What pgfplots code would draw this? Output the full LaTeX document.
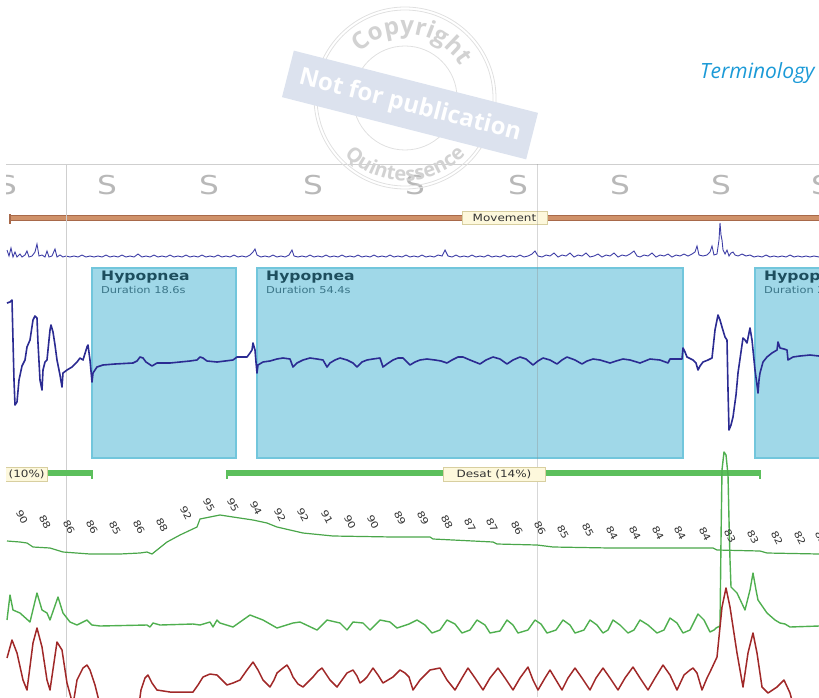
\documentclass[border=0pt]{standalone}
\usepackage{pgfplots}
\pgfplotsset{compat=1.18}
\usepackage{fontspec}
\setmainfont{DejaVu Sans}
\newfontfamily\chartfont[FakeStretch=1.2]{DejaVu Sans}
\newfontfamily\termfont{Open Sans}
\newfontfamily\wmfont{Open Sans}
\usetikzlibrary{decorations.text}
\definecolor{sgrey}{HTML}{B8B8B8}
\definecolor{gridgrey}{HTML}{CFCFCF}
\definecolor{movfill}{HTML}{CF9169}
\definecolor{movdark}{HTML}{A8694A}
\definecolor{labelbg}{HTML}{FDF8DC}
\definecolor{labelbd}{HTML}{D8CFA0}
\definecolor{emg}{HTML}{3E3EA6}
\definecolor{resp}{HTML}{2B2B92}
\definecolor{hypfill}{HTML}{A0D8E8}
\definecolor{hypdraw}{HTML}{72C6DC}
\definecolor{hyptext}{HTML}{1D4E5E}
\definecolor{durtext}{HTML}{3A7588}
\definecolor{desat}{HTML}{5CBF5C}
\definecolor{spo}{HTML}{4AA64A}
\definecolor{flow}{HTML}{4FAF4F}
\definecolor{thor}{HTML}{A02828}
\definecolor{numgrey}{HTML}{333333}
\definecolor{termblue}{HTML}{1B9AD7}
\definecolor{wmline}{HTML}{E0E0E0}
\definecolor{wmband}{HTML}{DCE2EE}
\definecolor{wmtext}{HTML}{D2D2D2}
\newcommand\wmcopy{\wmfont\bfseries\fontsize{24}{26}\selectfont}
\newcommand\wmquint{\wmfont\bfseries\fontsize{20}{22}\selectfont}
\begin{document}
\begin{tikzpicture}[x=1pt,y=1pt]
\begin{scope}
\clip (6,0) rectangle (819,534);
\begin{axis}[at={(0,0)}, anchor=south west, x=1pt, y=1pt,
  xmin=0, xmax=819, ymin=0, ymax=697, y dir=reverse, hide axis, clip=false]
% top border
\addplot[gridgrey, line width=0.8pt] coordinates {(6,164) (830,164)};
% S row
\addplot[draw=none, mark=none, nodes near coords, point meta=explicit symbolic,
  nodes near coords style={anchor=center, inner sep=0pt, text=sgrey, font=\chartfont\fontsize{26}{28}\selectfont}]
  table[meta=lab] {
x y lab
7 185 S
107 185 S
209 185 S
313 185 S
415 185 S
518 185 S
620 185 S
721 185 S
821 185 S
};
% movement bar
\addplot[movdark, line width=6.5pt] coordinates {(10,218) (830,218)};
\addplot[movfill, line width=4.5pt] coordinates {(11,218) (830,218)};
\addplot[movdark, line width=1.5pt] coordinates {(10,214) (10,224)};
\node[fill=labelbg, draw=labelbd, line width=0.6pt, inner sep=0pt, minimum width=85pt, minimum height=13pt,
  font=\chartfont\fontsize{10}{12}\selectfont, text=black!80] at (axis cs:504.5,217.5) {Movement};
% EMG trace
\addplot[emg, line width=0.9pt] coordinates {
(7,250)(9,256)(11,248)(13,257)(15,252)(17,257)(20,254)(22,257)(25,255)(27,251)(29,257)(32,256)(35,252)(37,244)(39,256)(42,255)(45,257)(47,251)(49,257)(52,256)(55,249)(57,257)(60,255)(63,257)(66,256)(70,257)(74,256)(78,257)(82,255)(86,257)(90,256)(94,257)(98,256)(102,257)(106,255)(110,257)(114,256)(118,257)(122,255)(126,257)(130,256)(134,257)(138,254)(142,257)(146,256)(150,257)(154,255)(158,257)(162,256)(166,257)(170,255)(174,257)(178,256)(182,257)(186,255)(190,257)(194,256)(198,257)(202,255)(206,257)(210,256)(214,257)(218,255)(222,257)(226,256)(230,257)(234,255)(238,257)(242,256)(246,257)(250,255)(253,252)(255,249)(257,255)(261,257)(265,256)(269,257)(273,255)(277,257)(281,256)(285,257)(289,255)(292,250)(294,256)(298,257)(302,256)(306,257)(310,255)(314,257)(318,256)(322,257)(326,255)(330,257)(334,256)(338,257)(342,255)(346,257)(350,256)(354,257)(358,255)(362,257)(366,256)(370,257)(374,255)(378,257)(382,256)(386,257)(390,255)(394,257)(398,256)(402,257)(406,255)(410,257)(414,256)(418,257)(422,255)(426,257)(430,256)(434,257)(438,255)(442,256)(445,250)(448,256)(452,257)(456,255)(460,257)(464,256)(468,257)(472,255)(476,257)(480,256)(484,257)(488,255)(492,257)(496,256)(500,257)(504,255)(508,257)(512,256)(516,257)(520,255)(524,257)(528,256)(532,254)(535,251)(538,256)(542,257)(546,255)(550,256)(554,253)(558,257)(562,255)(566,256)(570,253)(574,257)(578,255)(582,256)(586,253)(590,257)(594,256)(598,254)(602,257)(606,255)(610,256)(614,253)(618,257)(622,255)(626,256)(630,254)(634,251)(637,256)(640,257)(644,255)(648,256)(652,253)(656,257)(660,255)(664,256)(668,254)(672,257)(676,255)(680,256)(684,254)(688,256)(692,254)(695,252)(697,246)(699,255)(703,256)(707,255)(710,252)(712,246)(714,255)(717,254)(719,240)(720,223)(721,235)(722,240)(723,250)(725,254)(727,250)(729,256)(731,253)(733,252)(735,255)(738,256)(742,254)(746,256)(750,255)(754,257)(758,256)(762,257)(766,255)(770,257)(774,256)(778,257)(782,256)(786,257)(790,255)(794,257)(798,256)(802,257)(806,256)(810,257)(814,256)(819,257)};
% hypopnea boxes
\addplot[fill=hypfill, draw=hypdraw, line width=1.5pt] coordinates {(92,268)(236,268)(236,458)(92,458)} -- cycle;
\addplot[fill=hypfill, draw=hypdraw, line width=1.5pt] coordinates {(257,268)(683,268)(683,458)(257,458)} -- cycle;
\addplot[fill=hypfill, draw=hypdraw, line width=1.5pt] coordinates {(755,268)(840,268)(840,458)(755,458)} -- cycle;
\node[anchor=north west, inner sep=0pt, text=hyptext, font=\chartfont\bfseries\fontsize{13}{14}\selectfont] at (axis cs:101,271) {Hypopnea};
\node[anchor=north west, inner sep=0pt, text=durtext, font=\chartfont\fontsize{9.5}{11}\selectfont] at (axis cs:101,286) {Duration 18.6s};
\node[anchor=north west, inner sep=0pt, text=hyptext, font=\chartfont\bfseries\fontsize{13}{14}\selectfont] at (axis cs:266,271) {Hypopnea};
\node[anchor=north west, inner sep=0pt, text=durtext, font=\chartfont\fontsize{9.5}{11}\selectfont] at (axis cs:266,286) {Duration 54.4s};
\node[anchor=north west, inner sep=0pt, text=hyptext, font=\chartfont\bfseries\fontsize{13}{14}\selectfont] at (axis cs:764,271) {Hypopnea};
\node[anchor=north west, inner sep=0pt, text=durtext, font=\chartfont\fontsize{9.5}{11}\selectfont] at (axis cs:764,286) {Duration 21.0s};
% vertical grid lines
\addplot[gridgrey, line width=0.9pt] coordinates {(66,164) (66,697)};
\addplot[black!45, opacity=0.35, line width=0.9pt] coordinates {(537,164) (537,697)};
% respiratory trace
\addplot[resp, line width=1.6pt, line join=round] coordinates {
(7,303)(10,302)(12,300)(13,340)(14,380)(15,405)(17,402)(19,380)(22,366)(25,360)(27,347)(30,340)(33,320)(35,316)(37,318)(38,343)(40,380)(42,390)(43,370)(45,362)(47,360)(50,330)(51,325)(53,332)(55,345)(57,360)(60,375)(62,387)(63,373)(67,370)(72,367)(77,362)(80,358)(83,360)(87,347)(88,345)(90,360)(92,382)(93,373)(97,367)(103,365)(115,364)(133,363)(137,361)(140,357)(143,358)(146,362)(152,366)(157,363)(170,363)(190,361)(197,360)(200,357)(203,358)(207,361)(217,362)(225,361)(233,360)(237,357)(242,357)(247,357)(250,353)(252,350)(253,343)(255,350)(256,362)(257,373)(258,365)(263,362)(270,361)(277,359)(283,358)(290,359)(293,367)(297,363)(303,360)(310,358)(317,359)(323,360)(327,367)(330,363)(335,360)(340,358)(347,360)(353,363)(357,367)(362,362)(367,360)(373,359)(380,358)(383,367)(387,364)(393,360)(398,358)(403,358)(410,365)(415,362)(420,360)(427,359)(435,360)(441,361)(447,363)(452,360)(458,357)(463,357)(470,360)(480,364)(486,360)(493,357)(500,359)(507,364)(513,360)(520,357)(526,359)(533,365)(538,361)(543,358)(550,360)(557,364)(562,360)(567,357)(575,360)(582,364)(587,361)(593,359)(600,360)(610,363)(616,361)(623,359)(630,360)(640,363)(645,361)(650,359)(660,360)(668,363)(670,359)(676,359)(682,359)(683,348)(685,352)(687,357)(693,360)(696,363)(698,370)(700,366)(703,362)(708,360)(712,358)(715,330)(718,315)(720,320)(722,327)(725,337)(727,340)(728,390)(729,430)(731,425)(733,417)(736,395)(738,373)(741,352)(743,338)(745,340)(747,343)(749,333)(750,328)(752,340)(754,360)(755,370)(757,385)(758,393)(759,380)(760,373)(763,362)(767,357)(772,353)(777,350)(778,342)(780,348)(784,349)(787,350)(788,360)(793,357)(800,356)(810,355)(819,356)};
% desat bars
\addplot[desat, line width=5.5pt] coordinates {(40,473) (92,473)};
\addplot[desat, line width=1.5pt] coordinates {(92,470) (92,479)};
\addplot[desat, line width=5.5pt] coordinates {(227,473) (760,473)};
\addplot[desat, line width=1.5pt] coordinates {(227,470) (227,479)};
\addplot[desat, line width=1.5pt] coordinates {(760,470) (760,479)};
\node[anchor=east, fill=labelbg, draw=labelbd, line width=0.6pt, inner xsep=3pt, inner ysep=0pt, minimum height=14pt,
  font=\chartfont\fontsize{10}{12}\selectfont, text=black!80] at (axis cs:48,474.5) {Desat (10\%)};
\node[fill=labelbg, draw=labelbd, line width=0.6pt, inner sep=0pt, minimum width=102pt, minimum height=14pt,
  font=\chartfont\fontsize{10}{12}\selectfont, text=black!80] at (axis cs:494,474.5) {Desat (14\%)};
% SpO2 line
\addplot[spo, line width=1.2pt] coordinates {
(7,541)(20,542)(27,543)(33,547)(50,548)(63,552)(90,554)(120,554)(140,553)(147,552)(152,554)(157,550)(167,542)(180,535)(197,527)(200,519)(220,515)(233,517)(253,520)(267,523)(277,527)(303,533)(333,536)(393,537)(430,537)(433,539)(453,540)(493,542)(497,544)(537,545)(553,547)(610,548)(713,548)(717,550)(760,551)(767,553)(819,554)};
% SpO2 value labels
\addplot[draw=none, mark=none, nodes near coords, point meta=explicit symbolic,
  nodes near coords style={anchor=center, rotate=-62, inner sep=0pt, text=numgrey, font=\chartfont\fontsize{9.5}{10}\selectfont}]
  table[meta=lab] {
x y lab
22 517 90
45 522 88
69 527 86
92 527 86
115 528 85
139 527 86
162 525 88
186 513 92
209 505 95
233 505 95
256 508 94
280 515 92
303 515 92
327 517 91
350 522 90
373 522 90
400 518 89
423 518 89
447 522 88
470 525 87
492 525 87
517 528 86
540 528 86
563 532 85
588 530 85
612 533 84
635 533 84
658 533 84
680 533 84
705 534 84
730 536 83
753 537 83
777 538 82
800 538 82
821 538 82
};
% flow trace (green)
\addplot[flow, line width=1.4pt, line join=round] coordinates {
(7,620)(10,595)(13,610)(20,613)(30,622)(37,593)(42,610)(47,613)(50,620)(58,597)(63,613)(70,622)(77,625)(87,620)(92,625)(100,626)(147,625)(150,627)(153,623)(160,625)(193,624)(200,625)(210,622)(213,627)(217,620)(220,623)(233,627)(250,615)(263,620)(277,628)(293,623)(300,622)(317,630)(327,620)(340,623)(347,630)(353,622)(363,623)(370,630)(380,620)(390,622)(397,628)(409,624)(417,620)(425,625)(432,633)(440,630)(447,620)(455,624)(462,633)(470,630)(477,620)(485,625)(490,633)(500,631)(507,620)(513,625)(518,633)(528,630)(535,620)(541,624)(547,633)(556,630)(563,620)(570,625)(575,633)(584,630)(590,620)(597,625)(603,633)(608,630)(613,620)(620,625)(628,633)(634,630)(640,620)(648,625)(657,633)(664,630)(670,618)(677,623)(683,633)(690,630)(698,614)(704,620)(710,632)(714,630)(716,628)(720,626)(721,540)(722,470)(724,452)(726,455)(728,475)(729,520)(730,560)(731,587)(737,593)(745,610)(750,590)(753,573)(756,590)(758,600)(767,613)(775,620)(780,623)(785,624)(790,627)(819,626)};
% thoracic trace (red)
\addplot[thor, line width=1.5pt, line join=round] coordinates {
(7,658)(12,640)(17,653)(23,680)(27,690)(33,643)(37,628)(42,647)(47,680)(50,690)(57,642)(62,650)(67,683)(70,694)(73,705)(77,680)(83,668)(87,665)(90,670)(95,685)(98,697)(102,712)(138,712)(141,690)(145,678)(148,675)(152,683)(157,690)(170,692)(193,692)(198,685)(203,677)(210,674)(217,675)(222,680)(227,685)(233,683)(240,680)(247,670)(253,662)(258,670)(263,680)(270,687)(274,680)(277,673)(283,668)(287,665)(290,670)(293,677)(298,684)(303,687)(308,682)(313,677)(318,671)(322,668)(326,674)(330,680)(337,687)(342,680)(347,673)(353,670)(357,676)(360,683)(364,680)(367,677)(373,668)(378,675)(383,683)(388,680)(393,677)(400,670)(405,673)(409,677)(413,690)(420,680)(430,670)(440,668)(447,680)(455,690)(462,678)(468,668)(475,678)(483,690)(490,678)(498,668)(505,678)(513,690)(520,678)(528,667)(533,680)(538,690)(545,678)(550,670)(556,680)(562,690)(568,678)(575,668)(582,678)(590,690)(596,678)(603,668)(610,678)(618,690)(625,678)(633,667)(640,678)(648,690)(655,678)(663,665)(670,675)(677,690)(684,675)(690,670)(693,668)(697,673)(702,690)(707,678)(710,672)(717,657)(722,607)(726,588)(730,607)(737,653)(743,687)(748,653)(753,633)(757,653)(762,687)(768,693)(777,687)(784,680)(790,693)(795,712)(819,712)};
\end{axis}
\end{scope}
% header text
\node[anchor=base west, inner sep=0pt, text=termblue, font=\termfont\itshape\fontsize{21}{24}\selectfont] at (700,618) {Terminology};
% watermark
\draw[wmline, line width=0.8pt] (405,599) circle[radius=91];
\draw[wmline, line width=0.8pt] (405,599) circle[radius=88];
\draw[wmline, line width=0.8pt] (405,599) circle[radius=52];
\fill[wmband, rotate around={-14.3:(410,592)}] (284,568) rectangle (536,616);
\node[rotate=-14.3, text=white, font=\wmfont\bfseries\fontsize{24}{26}\selectfont] at (410,591) {Not for publication};
\path[decorate, decoration={text along path, text={|\wmcopy|Copyright}, text align=center, text color=wmtext}]
  (405,599) ++(150:64) arc[start angle=150, end angle=15, radius=64];
\path[decorate, decoration={text along path, text={|\wmquint|Quintessence}, text align=center, text color=wmtext}]
  (405,599) ++(205:83) arc[start angle=205, end angle=335, radius=83];
\pgfresetboundingbox
\useasboundingbox (0,0) rectangle (819,697);
\end{tikzpicture}
\end{document}
